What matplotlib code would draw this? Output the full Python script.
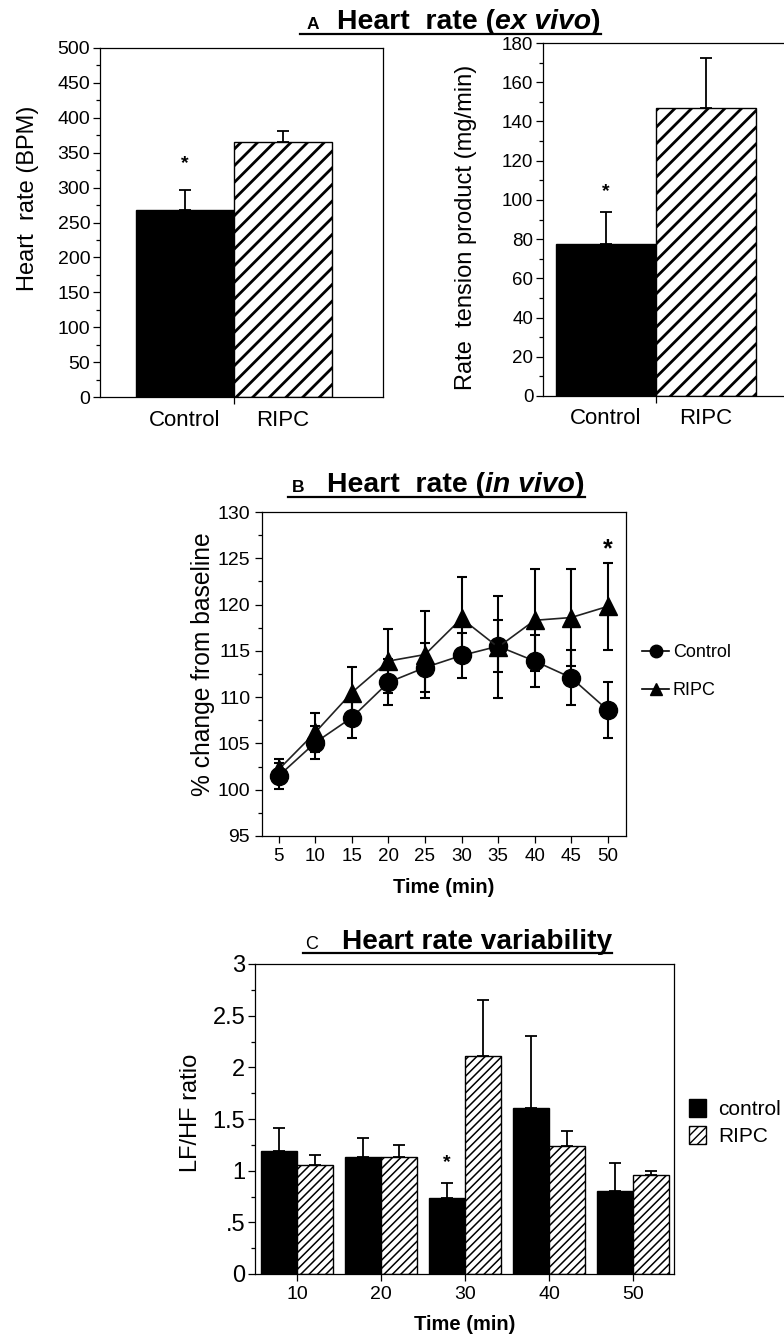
import numpy as np
import matplotlib
matplotlib.use('Agg')
import matplotlib.pyplot as plt
from matplotlib.ticker import MultipleLocator, FixedLocator, FixedFormatter
from matplotlib.lines import Line2D
from matplotlib.patches import Patch

plt.rcParams['font.family'] = ['Liberation Sans', 'DejaVu Sans']
plt.rcParams['axes.linewidth'] = 0.9

# ---- data ----
groups_a = ['Control', 'RIPC']
hr_ex_vivo = [268, 366]
hr_ex_vivo_err = [29, 15]
rtp_ex_vivo = [77.5, 147]
rtp_ex_vivo_err = [16.3, 25.5]

time_b = [5, 10, 15, 20, 25, 30, 35, 40, 45, 50]
ctrl_b = [101.5, 105.1, 107.8, 111.6, 113.2, 114.5, 115.5, 113.9, 112.1, 108.6]
ctrl_b_err = [1.4, 1.8, 2.2, 2.5, 2.6, 2.4, 2.8, 2.8, 3.0, 3.0]
ripc_b = [102.2, 106.2, 110.5, 113.9, 114.6, 118.5, 115.4, 118.3, 118.6, 119.8]
ripc_b_err = [1.1, 2.1, 2.8, 3.5, 4.7, 4.5, 5.5, 5.5, 5.2, 4.7]

time_c = [10, 20, 30, 40, 50]
ctrl_c = [1.19, 1.13, 0.735, 1.605, 0.80]
ctrl_c_err = [0.225, 0.187, 0.146, 0.695, 0.274]
ripc_c = [1.052, 1.129, 2.113, 1.236, 0.961]
ripc_c_err = [0.103, 0.123, 0.542, 0.146, 0.033]
yticks_c = [0, 0.5, 1, 1.5, 2, 2.5, 3]
yticklabels_c = ['0', '.5', '1', '1.5', '2', '2.5', '3']

W, H = 784, 1337
fig = plt.figure(figsize=(W / 100, H / 100), dpi=100)


def px_axes(x0, y0, x1, y1):
    return fig.add_axes([x0 / W, 1 - y1 / H, (x1 - x0) / W, (y1 - y0) / H])


def bar_panel(ax, vals, errs, ylim, major, minor, ylabel, tick_fs, label_fs, xlim):
    x = np.arange(len(vals))
    ax.bar(x[0], vals[0], 1.0, color='black', edgecolor='black', linewidth=1.0)
    b = ax.bar(x[1], vals[1], 1.0, color='white', edgecolor='black', hatch='//', linewidth=1.0)
    for p in b:
        try:
            p.set_hatch_linewidth(2.0)
        except AttributeError:
            pass
    ax.errorbar(x, vals, yerr=[np.zeros(len(vals)), errs], fmt='none', ecolor='black',
                elinewidth=1.3, capsize=4, capthick=1.3)
    ax.set_xlim(*xlim)
    ax.set_ylim(*ylim)
    ax.yaxis.set_major_locator(MultipleLocator(major))
    ax.yaxis.set_minor_locator(MultipleLocator(minor))
    ax.tick_params(axis='y', which='major', length=5, width=0.9, labelsize=tick_fs, pad=2)
    ax.tick_params(axis='y', which='minor', length=3, width=0.9)
    ax.xaxis.set_major_locator(FixedLocator([0.5]))
    ax.xaxis.set_major_formatter(FixedFormatter(['']))
    ax.xaxis.set_minor_locator(FixedLocator(list(x)))
    ax.xaxis.set_minor_formatter(FixedFormatter(groups_a))
    ax.tick_params(axis='x', which='major', length=5, width=0.9)
    ax.tick_params(axis='x', which='minor', length=0, labelsize=16, pad=9)
    ax.set_ylabel(ylabel, fontsize=label_fs)


def title(x_left, y_base, letter, letter_fs, letter_bold, pieces, x_text, ul_y, ul_x0, fs):
    r = fig.canvas.get_renderer()
    fig.text(x_left / W, 1 - y_base / H, letter, fontsize=letter_fs,
             fontweight='bold' if letter_bold else 'normal', ha='left', va='baseline')
    x = x_text
    for txt, style in pieces:
        t = fig.text(x / W, 1 - y_base / H, txt, fontsize=fs, fontweight='bold',
                     fontstyle=style, ha='left', va='baseline')
        bb = t.get_window_extent(renderer=r)
        x = bb.x1
    fig.add_artist(Line2D([ul_x0 / W, x / W], [1 - ul_y / H, 1 - ul_y / H],
                          color='black', linewidth=1.6))


# ---- panel A left ----
axa = px_axes(100, 48, 383, 397)
bar_panel(axa, hr_ex_vivo, hr_ex_vivo_err, (0, 500), 50, 25, 'Heart  rate (BPM)', 14, 17,
          (-0.867, 2.02))
axa.text(0, 335, '*', fontsize=14, ha='center', va='center', fontweight='bold')
axa.yaxis.set_label_coords(-0.216, 0.57)

# ---- panel A right ----
axr = px_axes(543, 43, 784, 396)
bar_panel(axr, rtp_ex_vivo, rtp_ex_vivo_err, (0, 180), 20, 10, 'Rate  tension product (mg/min)',
          13.5, 17, (-0.63, 1.78))
axr.spines['right'].set_visible(False)
axr.text(0, 104, '*', fontsize=14, ha='center', va='center', fontweight='bold')
axr.yaxis.set_label_coords(-0.274, 0.479)

title(307, 29, 'A', 12.5, True, [('Heart  rate (', 'normal'), ('ex vivo', 'italic'), (')', 'normal')],
      337, 34, 300, 20.4)

# ---- panel B ----
axb = px_axes(262, 512, 626, 836)
axb.errorbar(time_b, ctrl_b, yerr=ctrl_b_err, color='#222222', linewidth=1.2, marker='o',
             markersize=13, mfc='black', mec='black', ecolor='black', elinewidth=1.5,
             capsize=3.5, capthick=1.5, label='Control', zorder=3)
axb.errorbar(time_b, ripc_b, yerr=ripc_b_err, color='#222222', linewidth=1.2, marker='^',
             markersize=13, mfc='black', mec='black', ecolor='black', elinewidth=1.5,
             capsize=3.5, capthick=1.5, label='RIPC', zorder=3)
axb.set_xlim(2.7, 52.5)
axb.set_ylim(95, 130)
axb.set_xticks(time_b)
axb.yaxis.set_major_locator(MultipleLocator(5))
axb.yaxis.set_minor_locator(MultipleLocator(2.5))
axb.tick_params(axis='both', which='major', length=5, width=0.9, labelsize=14)
axb.tick_params(axis='x', labelsize=13.5)
axb.tick_params(axis='y', which='minor', length=3, width=0.9)
axb.set_ylabel('% change from baseline', fontsize=17.7)
axb.yaxis.set_label_coords(-0.129, 0.53)
axb.set_xlabel('Time (min)', fontsize=14.5, fontweight='bold')
axb.xaxis.set_label_coords(0.5, -0.13)
axb.text(50, 126.0, '*', fontsize=18, ha='center', va='center', fontweight='bold')
leg_handles = [
    Line2D([], [], color='black', linewidth=1.2, marker='o', markersize=9),
    Line2D([], [], color='black', linewidth=1.2, marker='^', markersize=9),
]
fig.legend(leg_handles, ['Control', 'RIPC'], loc='center left',
           bbox_to_anchor=(633 / W, 1 - 671.5 / H), frameon=False, fontsize=13,
           handlelength=1.5, handletextpad=0.2, labelspacing=1.15, borderpad=0)

title(292, 492, 'B', 12.5, True, [('Heart  rate (', 'normal'), ('in vivo', 'italic'), (')', 'normal')],
      327, 497, 288, 20.4)

# ---- panel C ----
axc = px_axes(255, 964, 674, 1274)
bw = 4.29
tc = np.array(time_c)
axc.bar(tc - bw / 2, ctrl_c, bw, color='black', edgecolor='black', linewidth=1.0, label='control')
bc = axc.bar(tc + bw / 2, ripc_c, bw, color='white', edgecolor='black', hatch='////',
             linewidth=1.0, label='RIPC')
for p in bc:
    try:
        p.set_hatch_linewidth(1.1)
    except AttributeError:
        pass
axc.errorbar(tc - bw / 2, ctrl_c, yerr=[np.zeros(5), ctrl_c_err], fmt='none', ecolor='black',
             elinewidth=1.3, capsize=4, capthick=1.3)
axc.errorbar(tc + bw / 2, ripc_c, yerr=[np.zeros(5), ripc_c_err], fmt='none', ecolor='black',
             elinewidth=1.3, capsize=4, capthick=1.3)
axc.set_xlim(5.0, 54.88)
axc.set_ylim(0, 3)
axc.set_xticks(time_c)
axc.set_yticks(yticks_c)
axc.set_yticklabels(yticklabels_c)
axc.yaxis.set_minor_locator(MultipleLocator(0.25))
axc.tick_params(axis='both', which='major', length=5, width=0.9)
axc.tick_params(axis='y', labelsize=17, pad=2)
axc.tick_params(axis='x', labelsize=14)
axc.tick_params(axis='y', which='minor', length=3, width=0.9)
axc.set_ylabel('LF/HF ratio', fontsize=17)
axc.yaxis.set_label_coords(-0.126, 0.52)
axc.set_xlabel('Time (min)', fontsize=14.5, fontweight='bold')
axc.xaxis.set_label_coords(0.5, -0.132)
axc.text(30 - bw / 2, 1.08, '*', fontsize=14, ha='center', va='center', fontweight='bold')
c_handles = [Patch(facecolor='black', edgecolor='black'),
             Patch(facecolor='white', edgecolor='black', hatch='////')]
fig.legend(c_handles, ['control', 'RIPC'], loc='center left',
           bbox_to_anchor=(689 / W, 1 - 1122.5 / H), frameon=False, fontsize=15,
           handlelength=0.82, handleheight=0.95, handletextpad=0.58, labelspacing=0.35,
           borderpad=0, borderaxespad=0)

title(305, 949, 'C', 13, False, [('Heart rate variability', 'normal')],
      342, 953, 303, 20.2)

fig.savefig('out.png', dpi=100)
